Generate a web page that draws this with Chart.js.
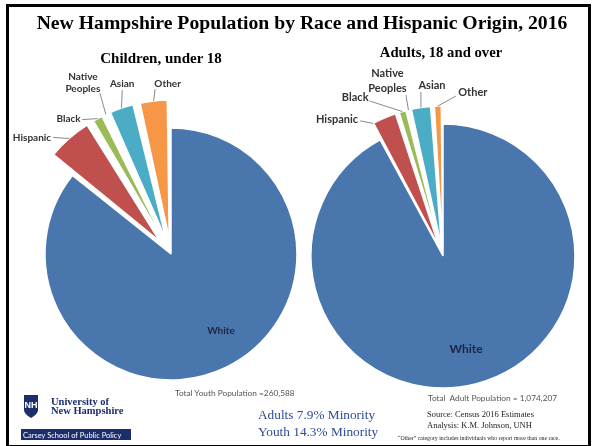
<!DOCTYPE html>
<html>
<head>
<meta charset="utf-8">
<script src="https://cdn.jsdelivr.net/npm/chart.js@4.4.0/dist/chart.umd.min.js"></script>
<style>
  html,body{margin:0;padding:0;background:#fff;}
  #wrap{position:relative;width:592px;height:446px;overflow:hidden;background:#fff;}
  canvas{position:absolute;left:0;top:0;}
  .t{position:absolute;white-space:nowrap;transform:translate(-50%,-50%);line-height:1;}
  .l{position:absolute;white-space:nowrap;line-height:1;transform:translateY(-50%);}
  #frame{position:absolute;left:6px;top:4px;width:585px;height:444px;border:3px solid #000;box-sizing:border-box;}
</style>
</head>
<body>
<div id="wrap">
  <canvas id="c1" width="592" height="446"></canvas>
  <canvas id="c2" width="592" height="446"></canvas>
  <div id="frame"></div>
  <div class="t" style="left:302px;top:22px;font:bold 19.7px 'Liberation Serif',serif;color:#000;">New Hampshire Population by Race and Hispanic Origin, 2016</div>
  <div class="t" style="left:161px;top:58px;font:bold 15px 'Liberation Serif',serif;color:#000;">Children, under 18</div>
  <div class="t" style="left:441px;top:52px;font:bold 14.7px 'Liberation Serif',serif;color:#000;">Adults, 18 and over</div>

  <div class="l" style="left:175px;top:393px;font:8.3px Lato,sans-serif;color:#555;">Total Youth Population =260,588</div>
  <div class="l" style="left:428px;top:398px;font:8.3px Lato,sans-serif;color:#555;">Total &nbsp;Adult Population = 1,074,207</div>

  <div class="l" style="left:258px;top:415px;font:13.3px 'Liberation Serif',serif;color:#2e4a96;">Adults 7.9% Minority</div>
  <div class="l" style="left:258px;top:432px;font:13.3px 'Liberation Serif',serif;color:#2e4a96;">Youth 14.3% Minority</div>

  <div class="l" style="left:427px;top:414px;font:8.5px 'Liberation Serif',serif;color:#222;">Source: Census 2016 Estimates</div>
  <div class="l" style="left:427px;top:425px;font:8.5px 'Liberation Serif',serif;color:#222;">Analysis: K.M. Johnson, UNH</div>
  <div class="l" style="left:398px;top:438px;font:5.8px 'Liberation Serif',serif;color:#222;">“Other” category includes individuals who report more than one race.</div>

  <svg style="position:absolute;left:24px;top:395px;" width="14" height="23" viewBox="0 0 14 23">
    <path d="M0 0 H14 V15 Q14 19 7 23 Q0 19 0 15 Z" fill="#1b2e6b"/>
    <text x="7" y="13" text-anchor="middle" font-family="Liberation Sans,sans-serif" font-weight="bold" font-size="9" fill="#fff">NH</text>
  </svg>
  <div class="l" style="left:51px;top:401px;font:bold 10.5px 'Liberation Serif',serif;color:#1b2e6b;">University of</div>
  <div class="l" style="left:51px;top:410px;font:bold 10.5px 'Liberation Serif',serif;color:#1b2e6b;">New Hampshire</div>
  <div style="position:absolute;left:21px;top:429px;width:110px;height:11px;background:#1b2e6b;"></div>
  <div class="l" style="left:23px;top:435px;font:7.5px Lato,sans-serif;color:#fff;">Carsey School of Public Policy</div>
</div>
<script>
// ---- data ----
const categories = ['White', 'Hispanic', 'Black', 'Native Peoples', 'Asian', 'Other'];
const childrenPct = [85.7, 5.6, 1.6, 0.3, 3.2, 3.6];
const adultsPct   = [92.1, 3.0, 1.1, 0.2, 2.5, 1.1];

const sliceColors = ['#4a76ae', '#c0504d', '#9bbb59', '#8d83a8', '#4bacc6', '#f79646'];

// Chart.js v4 arc translation for an offset o and circumference c: o/4 * (2 - sin(min(PI,c)))
function arcShift(o, c) { return o / 4 * (2 - Math.sin(Math.min(Math.PI, c))); }

const labelPlugin = {
  id: 'sliceLabels',
  afterDatasetsDraw(chart, args, opts) {
    const ctx = chart.ctx;
    const meta = chart.getDatasetMeta(0);
    const layout = opts.layout;
    ctx.save();
    meta.data.forEach((el, i) => {
      const L = layout[i];
      if (!L) return;
      const {x, y, startAngle, endAngle, outerRadius, circumference} = el.getProps(['x','y','startAngle','endAngle','outerRadius','circumference'], true);
      const shift = arcShift(el.options.offset || 0, circumference);
      const mid = (startAngle + endAngle) / 2;
      if (L.inside) {
        ctx.font = opts.whiteFont;
        ctx.fillStyle = '#1c2541';
        ctx.textAlign = 'center';
        ctx.textBaseline = 'middle';
        ctx.fillText(categories[i], x + L.dx, y + L.dy);
        return;
      }
      const t = L.t === undefined ? 0.5 : L.t;
      const a = startAngle + (endAngle - startAngle) * t;
      const ax = x + Math.cos(mid) * shift + Math.cos(a) * outerRadius;
      const ay = y + Math.sin(mid) * shift + Math.sin(a) * outerRadius;
      ctx.strokeStyle = '#8a8a8a';
      ctx.lineWidth = 1;
      ctx.beginPath();
      ctx.moveTo(ax + L.lx, ay + L.ly);
      ctx.lineTo(ax, ay);
      ctx.stroke();
      ctx.font = opts.font;
      ctx.fillStyle = '#333';
      ctx.textAlign = L.align;
      ctx.textBaseline = 'middle';
      if (L.multi) {
        categories[i].split(' ').forEach((s, k) => ctx.fillText(s, ax + L.dx, ay + L.dy + k * L.lh));
      } else {
        ctx.fillText(categories[i], ax + L.dx, ay + L.dy);
      }
    });
    ctx.restore();
  }
};

function makePie(id, values, radius, explode, padding, layout, font, whiteFont) {
  const total = values.reduce((s, v) => s + v, 0);
  return new Chart(document.getElementById(id), {
    type: 'pie',
    data: {
      labels: categories,
      datasets: [{
        data: values,
        backgroundColor: sliceColors,
        borderColor: '#ffffff',
        borderWidth: 1.5,
        radius: radius,
        offset: values.map((v, i) => {
          if (i === 0) return 0;
          const c = v / total * 2 * Math.PI;
          return 4 * explode / (2 - Math.sin(Math.min(Math.PI, c)));
        })
      }]
    },
    options: {
      responsive: false,
      animation: false,
      layout: { padding: padding },
      plugins: {
        legend: { display: false },
        tooltip: { enabled: false },
        title: { display: false },
        sliceLabels: { layout: layout, font: font, whiteFont: whiteFont }
      }
    },
    plugins: [labelPlugin]
  });
}

makePie('c1', childrenPct, 126, 28, {left: 0, right: 250, top: 62, bottom: 0}, [
  {inside: true, dx: 50, dy: 77},
  {align: 'right', dx: -18, dy: -1, lx: -16, ly: -1},
  {align: 'right', dx: -17, dy: 0, lx: -15.5, ly: 1},
  {align: 'center', multi: true, lh: 12, dx: -23, dy: -37.5, lx: -6, ly: -21.5},
  {align: 'center', dx: 0.6, dy: -24, lx: 0.6, ly: -18},
  {align: 'center', dx: 14, dy: -17, lx: 1.5, ly: -12}
], "bold 10px Lato, sans-serif", "bold 10px Lato, sans-serif");

makePie('c2', adultsPct, 132, 18, {left: 294, right: 0, top: 66, bottom: 0}, [
  {inside: true, dx: 23, dy: 93},
  {align: 'right', t: 0, dx: -15, dy: -3.5, lx: -13, ly: -2.5},
  {align: 'right', dx: -34, dy: -14.6, lx: -33, ly: -10.6},
  {align: 'center', multi: true, lh: 15, dx: -21, dy: -37, lx: -2.5, ly: -15},
  {align: 'center', dx: 11, dy: -22.6, lx: 0, ly: -15.6},
  {align: 'center', dx: 35, dy: -14, lx: 18, ly: -10}
], "bold 11px Lato, sans-serif", "bold 12px Lato, sans-serif");
</script>
</body>
</html>
